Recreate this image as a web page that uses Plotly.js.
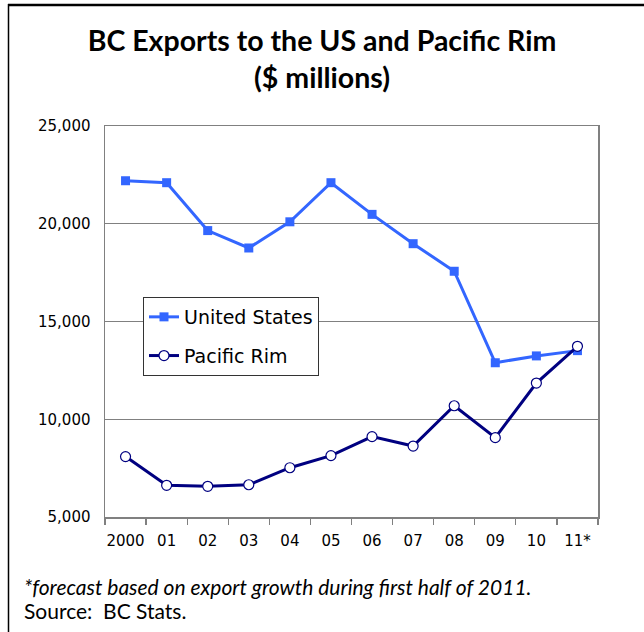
<!DOCTYPE html>
<html>
<head>
<meta charset="utf-8">
<script src="https://cdn.plot.ly/plotly-3.0.1.min.js"></script>
<style>html,body{margin:0;padding:0;background:#fff;}#chart{width:644px;height:632px;}</style>
</head>
<body>
<div id="chart"></div>
<script>
const years = ["2000","01","02","03","04","05","06","07","08","09","10","11*"];
const unitedStates = [22200, 22100, 19650, 18760, 20100, 22100, 20480, 18980, 17570, 12890, 13240, 13510];
const pacificRim = [8090, 6620, 6570, 6650, 7520, 8140, 9110, 8630, 10690, 9060, 11850, 13730];
const yTicks = [5000, 10000, 15000, 20000, 25000];

const W = 644, H = 632, L = 105, R = 46, T = 126, B = 115;
const pw = W - L - R, ph = H - T - B;
const px = x => (x - L) / pw;
const py = y => (H - B - y) / ph;

const traces = [
  {
    x: years, y: unitedStates, name: "United States", type: "scatter", mode: "lines+markers",
    legendgroup: "a",
    line: {color: "#3366ff", width: 3},
    marker: {symbol: "square", size: 9, color: "#3366ff"}
  },
  {
    x: years, y: pacificRim, name: "Pacific Rim", type: "scatter", mode: "lines+markers",
    legendgroup: "b",
    line: {color: "#000080", width: 3},
    marker: {symbol: "circle", size: 10, color: "#ffffff", line: {color: "#000080", width: 1.2}}
  }
];

const layout = {
  width: W, height: H,
  margin: {l: L, r: R, t: T, b: B, pad: 0},
  paper_bgcolor: "#ffffff", plot_bgcolor: "#ffffff",
  font: {family: "DejaVu Sans, Verdana, sans-serif", color: "#000000"},
  title: {
    text: "<b>BC Exports to the US and Pacific Rim</b><br><b>($ millions)</b>",
    font: {family: "Lato, Open Sans, sans-serif", size: 28.5, color: "#000000"},
    xref: "container", x: 0.5, xanchor: "center",
    yref: "container", y: 1 - 51 / H, yanchor: "middle"
  },
  showlegend: true,
  legend: {
    x: px(143), y: py(297), xanchor: "left", yanchor: "top",
    bgcolor: "#ffffff", bordercolor: "#333333", borderwidth: 1,
    font: {family: "DejaVu Sans, Verdana, sans-serif", size: 19, color: "#000000"},
    traceorder: "grouped", tracegroupgap: 11
  },
  xaxis: {
    type: "category", categoryorder: "array", categoryarray: years,
    range: [-0.5, 11.5], fixedrange: true, tickangle: 0,
    showline: true, linecolor: "#808080", linewidth: 1.5, mirror: true,
    ticks: "outside", tickson: "boundaries", ticklen: 6, tickcolor: "#808080", tickwidth: 1.2,
    ticklabelstandoff: 9,
    showgrid: false,
    tickfont: {family: "DejaVu Sans, Verdana, sans-serif", size: 15, color: "#000000"}
  },
  yaxis: {
    range: [5000, 25000], tickvals: yTicks, tickformat: ",d", fixedrange: true,
    showline: true, linecolor: "#808080", linewidth: 1.5, mirror: true,
    ticks: "", ticklabelstandoff: 10,
    showgrid: true, gridcolor: "#808080", gridwidth: 1, zeroline: false,
    tickfont: {family: "DejaVu Sans, Verdana, sans-serif", size: 15, color: "#000000"}
  },
  shapes: [
    {type: "line", xref: "paper", yref: "paper", x0: px(8), x1: px(646), y0: py(5), y1: py(5),
     line: {color: "#000000", width: 2.5}},
    {type: "line", xref: "paper", yref: "paper", x0: px(8.5), x1: px(8.5), y0: py(4), y1: py(634),
     line: {color: "#000000", width: 1.5}}
  ],
  annotations: [
    {xref: "paper", yref: "paper", x: px(22), y: py(586), xanchor: "left", yanchor: "middle",
     showarrow: false, text: "<i>*forecast based on export growth during first half of 2011.</i>",
     font: {family: "Lato, Open Sans, sans-serif", size: 21, color: "#000000"}},
    {xref: "paper", yref: "paper", x: px(22), y: py(610), xanchor: "left", yanchor: "middle",
     showarrow: false, text: "Source:  BC Stats.",
     font: {family: "Lato, Open Sans, sans-serif", size: 21, color: "#000000"}}
  ]
};

Plotly.newPlot("chart", traces, layout, {displayModeBar: false, staticPlot: true});
</script>
</body>
</html>
